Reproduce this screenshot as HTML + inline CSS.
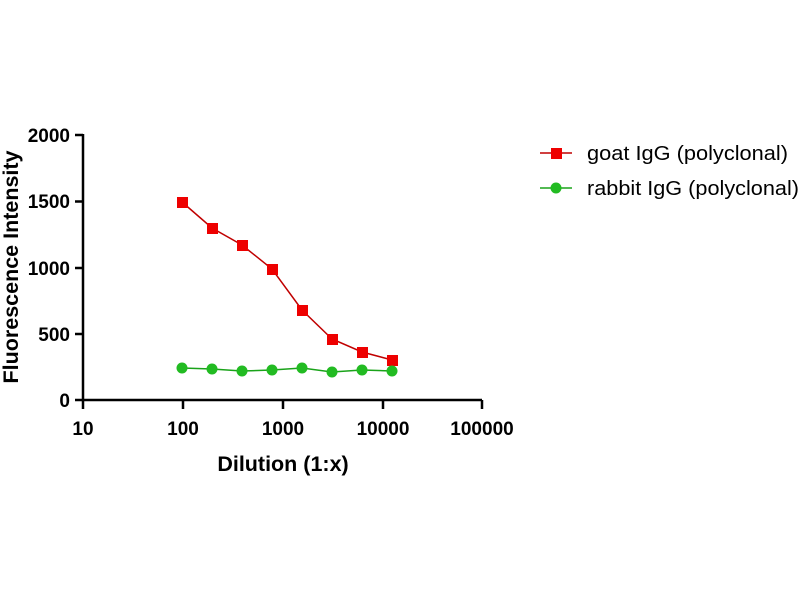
<!DOCTYPE html>
<html><head><meta charset="utf-8"><style>body{margin:0;background:#fff}</style></head><body>
<svg width="800" height="600" xmlns="http://www.w3.org/2000/svg" font-family="Liberation Sans, sans-serif">
<rect width="800" height="600" fill="#fff"/>
<g stroke="#000" stroke-width="2.5" fill="none">
<path d="M83,134 V400 H482"/>
<path d="M75,135H83M75,201.5H83M75,268H83M75,334H83M75,400H83"/>
<path d="M83,400V409M183,400V409M283,400V409M383,400V409M482,400V409"/>
</g>
<g font-size="19" font-weight="bold" text-anchor="end" fill="#000">
<text x="70" y="142">2000</text><text x="70" y="208">1500</text><text x="70" y="275">1000</text><text x="70" y="341">500</text><text x="70" y="407">0</text>
</g>
<g font-size="19" font-weight="bold" text-anchor="middle" fill="#000">
<text x="83" y="435">10</text><text x="183" y="435">100</text><text x="283" y="435">1000</text><text x="383" y="435">10000</text><text x="482" y="435">100000</text>
<text x="283" y="471" font-size="21.5">Dilution (1:x)</text>
<text transform="translate(18,267) rotate(-90)" font-size="21.5">Fluorescence Intensity</text>
</g>
<polyline fill="none" stroke="#c00000" stroke-width="1.5" points="182,202 212,228 242,245 272,269 302,310 332,339 362,352 392,360"/>
<g fill="#ee0000">
<rect x="177" y="197" width="11" height="11"/><rect x="207" y="223" width="11" height="11"/><rect x="237" y="240" width="11" height="11"/><rect x="267" y="264" width="11" height="11"/><rect x="297" y="305" width="11" height="11"/><rect x="327" y="334" width="11" height="11"/><rect x="357" y="347" width="11" height="11"/><rect x="387" y="355" width="11" height="11"/>
</g>
<polyline fill="none" stroke="#1aa31a" stroke-width="1.5" points="182,368 212,369 242,371 272,370 302,368 332,372 362,370 392,371"/>
<g fill="#22bb22">
<circle cx="182" cy="368" r="5.5"/><circle cx="212" cy="369" r="5.5"/><circle cx="242" cy="371" r="5.5"/><circle cx="272" cy="370" r="5.5"/><circle cx="302" cy="368" r="5.5"/><circle cx="332" cy="372" r="5.5"/><circle cx="362" cy="370" r="5.5"/><circle cx="392" cy="371" r="5.5"/>
</g>
<line x1="540" y1="153" x2="572" y2="153" stroke="#c00000" stroke-width="1.5"/>
<rect x="551" y="148" width="11" height="11" fill="#ee0000"/>
<line x1="540" y1="188" x2="572" y2="188" stroke="#1aa31a" stroke-width="1.5"/>
<circle cx="556" cy="188" r="5.5" fill="#22bb22"/>
<g font-size="20" fill="#000">
<text x="587" y="160" textLength="201" lengthAdjust="spacingAndGlyphs">goat IgG (polyclonal)</text>
<text x="587" y="195" textLength="212" lengthAdjust="spacingAndGlyphs">rabbit IgG (polyclonal)</text>
</g>
</svg>
</body></html>
